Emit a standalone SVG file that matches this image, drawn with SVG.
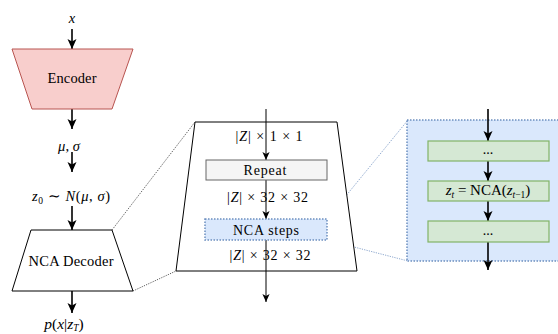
<svg xmlns="http://www.w3.org/2000/svg" width="558" height="334" viewBox="0 0 558 334">
<defs>
<marker id="ah" markerUnits="userSpaceOnUse" markerWidth="10" markerHeight="10" viewBox="0 0 10 10" refX="10" refY="5" orient="auto">
<path d="M0,0.5 L10,5 L0,9.5 L2.5,5 z" fill="#000"/>
</marker>
<marker id="ahs" markerUnits="userSpaceOnUse" markerWidth="8" markerHeight="8" viewBox="0 0 10 10" refX="10" refY="5" orient="auto">
<path d="M0,0.5 L10,5 L0,9.5 L2.5,5 z" fill="#000"/>
</marker>
</defs>
<style>
text{font-family:'Liberation Serif','Times New Roman',serif;fill:#000;text-anchor:middle}
.i{font-style:italic}
.lbl{font-size:14.5px}
.m{font-size:14px}
.sub{font-size:9.5px}
.arr{stroke:#000;stroke-width:1.6;fill:none;marker-end:url(#ah)}
.arr2{stroke:#000;stroke-width:1;fill:none;marker-end:url(#ahs)}
.zoomk{stroke:#333;stroke-width:0.8;stroke-dasharray:1.2 1.2;fill:none}
.zoomb{stroke:#6c8ebf;stroke-width:0.8;stroke-dasharray:1.2 1.2;fill:none}
.green{fill:#d5e8d4;stroke:#82b366;stroke-width:1.2}
</style>

<g id="connectors">
<line class="arr" x1="72" y1="29" x2="72" y2="49"/>
<line class="arr" x1="72" y1="109" x2="72" y2="129"/>
<line class="arr" x1="72" y1="152" x2="72" y2="172"/>
<line class="arr" x1="72" y1="206" x2="72" y2="230"/>
<line class="arr" x1="72" y1="291" x2="72" y2="313"/>
<line class="zoomk" x1="112" y1="230" x2="195" y2="122"/>
<line class="zoomk" x1="133" y1="291" x2="176" y2="271"/>
<line class="zoomb" x1="327" y1="219" x2="408" y2="120"/>
<line class="zoomb" x1="327" y1="240" x2="408" y2="261"/>
</g>

<g id="encoder">
<polygon points="12,49 133,49 112,109 32,109" fill="#f8cecc" stroke="#b85450" stroke-width="1"/>
<text class="lbl" x="72" y="83" textLength="49" lengthAdjust="spacing">Encoder</text>
</g>

<g id="label-x"><text class="lbl i" x="72" y="23">x</text></g>
<g id="label-musigma"><text class="lbl i" x="69" y="151" textLength="22" lengthAdjust="spacing">μ<tspan font-style="normal">,</tspan> σ</text></g>
<g id="label-z0"><text class="lbl" x="71" y="201" textLength="78" lengthAdjust="spacing"><tspan class="i">z</tspan><tspan class="sub" dy="3">0</tspan><tspan dy="-3"> ∼ </tspan><tspan class="i">N</tspan>(<tspan class="i">μ</tspan>, <tspan class="i">σ</tspan>)</text></g>

<g id="nca-decoder">
<polygon points="31,230 112,230 133,291 12,291" fill="#fff" stroke="#000" stroke-width="1"/>
<text class="lbl" x="71" y="266" textLength="85" lengthAdjust="spacing">NCA Decoder</text>
</g>

<g id="label-p"><text x="64" y="329" style="font-size:15.5px"><tspan class="i">p</tspan>(<tspan class="i">x</tspan>|<tspan class="i">z</tspan><tspan class="sub i" dy="2">T</tspan><tspan dy="-2">)</tspan></text></g>

<g id="decoder-detail">
<polygon points="195,122 337,122 357,271 176,271" fill="#fff" stroke="#000" stroke-width="1"/>
<line class="arr2" x1="266" y1="109" x2="266" y2="160"/>
<line class="arr2" x1="266" y1="180" x2="266" y2="219"/>
<line class="arr2" x1="266" y1="240" x2="266" y2="302"/>
<text class="m" x="269" y="141" textLength="67" lengthAdjust="spacing">|<tspan class="i">Z</tspan>| × 1 × 1</text>
<g id="repeat">
<rect x="206" y="160" width="121" height="20" fill="#f5f5f5" stroke="#666" stroke-width="1"/>
<text class="m" x="265" y="175" textLength="43" lengthAdjust="spacing">Repeat</text>
</g>
<text class="m" x="267.5" y="202" textLength="81" lengthAdjust="spacing">|<tspan class="i">Z</tspan>| × 32 × 32</text>
<g id="nca-steps">
<rect x="205" y="219" width="122" height="21" fill="#dae8fc" stroke="#6c8ebf" stroke-width="1.5" stroke-dasharray="1.5 1.5"/>
<text class="m" x="266" y="234.5" textLength="66" lengthAdjust="spacing">NCA steps</text>
</g>
<text class="m" x="270" y="260" textLength="81" lengthAdjust="spacing">|<tspan class="i">Z</tspan>| × 32 × 32</text>
</g>

<g id="nca-steps-detail">
<rect x="407" y="120" width="160" height="141" fill="#dae8fc" stroke="#6c8ebf" stroke-width="1.5" stroke-dasharray="1.5 1.5"/>
<line class="arr" x1="488" y1="109" x2="488" y2="141"/>
<line class="arr" x1="488" y1="161" x2="488" y2="181"/>
<line class="arr" x1="488" y1="201" x2="488" y2="221"/>
<line class="arr" x1="488" y1="242" x2="488" y2="270"/>
<g id="step1">
<rect class="green" x="428" y="141" width="121" height="20"/>
<text class="m" x="488" y="154">...</text>
</g>
<g id="step2">
<rect class="green" x="428" y="181" width="121" height="20"/>
<text x="488" y="195" style="font-size:15px"><tspan class="i">z</tspan><tspan class="sub i" dy="3">t</tspan><tspan dy="-3"> = NCA(</tspan><tspan class="i">z</tspan><tspan class="sub" dy="3"><tspan class="i">t</tspan>−1</tspan><tspan dy="-3">)</tspan></text>
</g>
<g id="step3">
<rect class="green" x="428" y="221" width="121" height="21"/>
<text class="m" x="488" y="235">...</text>
</g>
</g>
</svg>
